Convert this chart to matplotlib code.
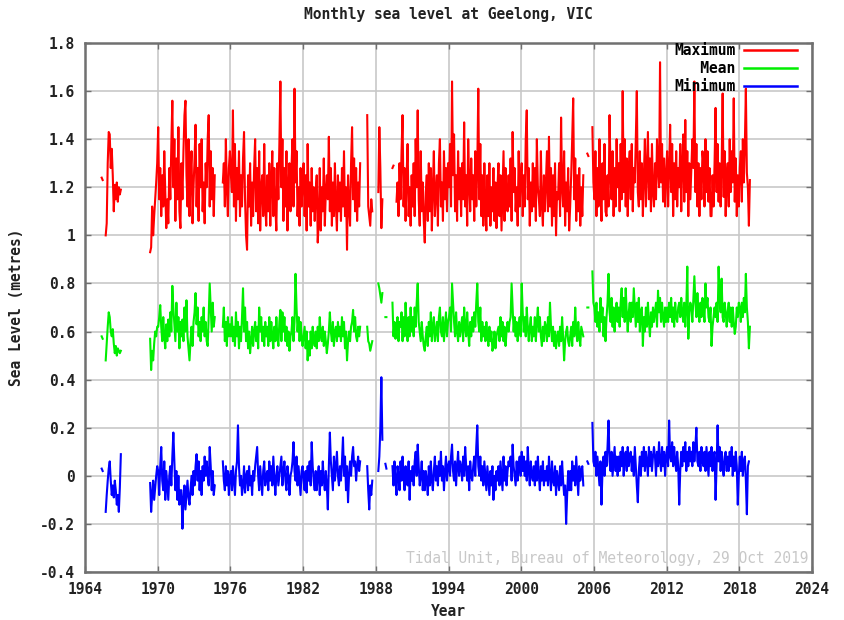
import numpy as np
import matplotlib
matplotlib.use("Agg")
import matplotlib.pyplot as plt

N = None
# Monthly values in centimetres, one row per year (Jan..Dec), 1965..2018
start_year = 1965

max_cm = [
    N, N, N, N, 124, 123, N, N, 100, 105, 130, 143,            # 1965
    142, 128, 136, 125, 110, 121, 115, 122, 114, 120, 117, 119,  # 1966
    N, N, N, N, N, N, N, N, N, N, N, N,                          # 1967
    N, N, N, N, N, N, N, N, N, N, N, N,                          # 1968
    N, N, N, N, 93, 95, 112, 100, 108, 115, 122, 130,            # 1969
    145, 115, 128, 108, 125, 112, 135, 118, 103, 115, 105, 128,  # 1970
    115, 138, 156, 120, 140, 106, 132, 115, 145, 110, 103, 130,  # 1971
    115, 135, 150, 156, 125, 112, 140, 108, 125, 135, 105, 120,  # 1972
    132, 146, 112, 128, 106, 138, 120, 140, 110, 122, 105, 130,  # 1973
    120, 140, 150, 112, 135, 115, 128, 108, 125, N, N, N,        # 1974
    N, N, N, N, 122, 130, 112, 140, 120, 108, 128, 135,          # 1975
    125, 118, 152, 112, 138, 106, 128, 115, 135, 108, 125, 112,  # 1976
    132, 143, 115, 100, 94, 125, 112, 130, 104, 122, 108, 128,   # 1977
    140, 110, 128, 105, 135, 102, 120, 125, 108, 138, 112, 104,  # 1978
    125, 110, 130, 104, 122, 135, 108, 128, 112, 102, 130, 115,  # 1979
    138, 164, 120, 140, 106, 128, 112, 135, 102, 120, 130, 110,  # 1980
    128, 140, 112, 161, 122, 135, 108, 120, 104, 128, 112, 122,  # 1981
    130, 108, 125, 102, 138, 112, 122, 104, 128, 110, 120, 106,  # 1982
    118, 125, 97, 106, 128, 102, 120, 110, 132, 104, 118, 125,   # 1983
    115, 141, 110, 128, 104, 122, 108, 130, 112, 102, 125, 110,  # 1984
    122, 106, 128, 112, 135, 108, 120, 94, 125, 112, 104, 130,   # 1985
    145, 115, 132, 110, 128, 106, 122, 112, 130, N, N, N,        # 1986
    N, N, N, 150, 112, 108, 104, 115, 110, N, N, N,              # 1987
    N, N, 118, 145, 128, 103, 115, N, N, N, N, N,                # 1988
    N, N, N, N, 128, 129, N, N, 114, 122, 108, 130,              # 1989
    115, 135, 150, 112, 128, 106, 125, 138, 108, 120, 104, 125,  # 1990
    112, 130, 108, 140, 120, 152, 115, 104, 135, 110, 122, 106,  # 1991
    97, 118, 125, 106, 130, 110, 128, 102, 120, 135, 108, 118,   # 1992
    125, 104, 130, 140, 112, 122, 106, 135, 115, 128, 110, 130,  # 1993
    120, 138, 112, 164, 125, 142, 110, 125, 106, 135, 115, 128,  # 1994
    108, 130, 115, 147, 112, 125, 104, 140, 122, 110, 132, 115,  # 1995
    125, 106, 135, 112, 128, 161, 115, 138, 108, 125, 104, 130,  # 1996
    112, 102, 125, 108, 130, 104, 120, 110, 128, 106, 122, 103,  # 1997
    120, 130, 108, 125, 102, 118, 135, 106, 128, 115, 110, 125,  # 1998
    112, 132, 106, 143, 118, 128, 110, 120, 104, 135, 112, 125,  # 1999
    130, 108, 125, 112, 140, 152, 115, 128, 104, 122, 110, 130,  # 2000
    112, 128, 106, 140, 120, 115, 108, 135, 112, 104, 125, 110,  # 2001
    122, 135, 110, 141, 112, 128, 104, 125, 108, 130, 100, 118,  # 2002
    115, 130, 108, 149, 120, 112, 135, 104, 122, 110, 128, 102,  # 2003
    112, 125, 140, 157, 115, 132, 106, 125, 110, 128, 104, 120,  # 2004
    108, 125, N, N, N, 134, 133, N, N, N, 145, 122,              # 2005
    115, 135, 108, 128, 112, 140, 120, 106, 130, 115, 138, 110,  # 2006
    108, 125, 112, 150, 125, 115, 135, 108, 128, 112, 140, 120,  # 2007
    130, 110, 138, 115, 160, 118, 140, 112, 132, 108, 128, 135,  # 2008
    115, 138, 110, 128, 122, 140, 160, 118, 112, 135, 115, 130,  # 2009
    108, 125, 140, 112, 128, 143, 115, 132, 110, 138, 118, 112,  # 2010
    130, 115, 140, 128, 120, 172, 122, 138, 114, 132, 112, 125,  # 2011
    135, 112, 128, 146, 118, 138, 108, 130, 115, 135, 112, 128,  # 2012
    120, 138, 110, 130, 142, 114, 148, 118, 135, 108, 130, 115,  # 2013
    128, 140, 128, 164, 118, 138, 112, 130, 108, 128, 115, 135,  # 2014
    130, 112, 140, 118, 135, 114, 128, 108, 108, 125, 112, 130,  # 2015
    153, 118, 138, 114, 130, 112, 128, 159, 116, 135, 108, 125,  # 2016
    130, 112, 140, 118, 135, 122, 157, 114, 132, 108, 125, 112,  # 2017
    128, 135, 114, 140, 122, 138, 161, 126, 120, 104, 123, N,    # 2018
]

mean_cm = [
    N, N, N, N, 58, 57, N, N, 48, 55, 62, 68,                    # 1965
    66, 60, 58, 61, 55, 51, 54, 50, 53, 52, 51, 52,              # 1966
    N, N, N, N, N, N, N, N, N, N, N, N,                          # 1967
    N, N, N, N, N, N, N, N, N, N, N, N,                          # 1968
    N, N, N, N, 57, 44, 52, 48, 55, 60, 58, 62,                  # 1969
    62, 66, 71, 62, 56, 66, 58, 53, 63, 56, 65, 58,              # 1970
    68, 60, 79, 70, 63, 56, 72, 60, 66, 53, 64, 58,              # 1971
    65, 56, 70, 60, 73, 58, 53, 48, 56, 62, 54, 64,              # 1972
    68, 76, 63, 70, 58, 64, 56, 66, 60, 70, 58, 64,              # 1973
    56, 54, 66, 80, 70, 60, 72, 62, 66, N, N, N,                 # 1974
    N, N, N, N, 62, 70, 56, 64, 54, 66, 58, 63,                  # 1975
    58, 66, 56, 62, 54, 68, 58, 64, 53, 62, 56, 66,              # 1976
    78, 60, 70, 56, 64, 53, 60, 51, 56, 62, 54, 60,              # 1977
    64, 56, 62, 53, 70, 60, 66, 56, 62, 54, 64, 58,              # 1978
    62, 54, 66, 56, 64, 58, 53, 62, 56, 66, 58, 54,              # 1979
    64, 69, 56, 68, 60, 66, 56, 62, 54, 60, 52, 58,              # 1980
    60, 66, 56, 64, 84, 70, 60, 66, 56, 64, 58, 54,              # 1981
    58, 62, 53, 60, 48, 56, 50, 60, 53, 62, 56, 54,              # 1982
    60, 53, 62, 56, 66, 58, 56, 62, 54, 60, 56, 51,              # 1983
    55, 60, 68, 60, 56, 64, 54, 60, 62, 56, 64, 58,              # 1984
    62, 56, 66, 58, 64, 53, 60, 48, 56, 60, 56, 62,              # 1985
    64, 69, 60, 66, 58, 56, 62, 58, 62, N, N, N,                 # 1986
    N, N, N, 62, 56, 55, 52, 54, 56, N, N, N,                    # 1987
    N, N, 80, 78, 75, 72, 76, N, N, 66, 66, N,                   # 1988
    N, N, N, N, 72, 58, 64, 57, 62, 66, 56, 64,                  # 1989
    62, 68, 56, 66, 58, 72, 62, 56, 66, 58, 70, 60,              # 1990
    66, 58, 70, 62, 72, 80, 64, 60, 56, 64, 58, 54,              # 1991
    52, 58, 62, 54, 64, 58, 68, 56, 62, 66, 56, 60,              # 1992
    64, 56, 66, 70, 60, 58, 66, 56, 62, 68, 58, 64,              # 1993
    66, 70, 60, 80, 72, 64, 58, 68, 60, 56, 64, 58,              # 1994
    62, 66, 56, 70, 62, 58, 68, 60, 54, 64, 58, 66,              # 1995
    60, 68, 62, 72, 80, 64, 60, 70, 56, 64, 58, 62,              # 1996
    56, 64, 58, 54, 62, 56, 60, 52, 54, 60, 53, 58,              # 1997
    60, 62, 56, 66, 58, 64, 56, 62, 54, 60, 64, 60,              # 1998
    64, 66, 80, 70, 60, 66, 58, 64, 56, 62, 66, 58,              # 1999
    80, 68, 60, 66, 58, 70, 62, 56, 62, 66, 56, 62,              # 2000
    58, 66, 56, 64, 70, 60, 66, 58, 54, 62, 56, 64,              # 2001
    62, 56, 66, 58, 72, 62, 56, 62, 54, 60, 53, 58,              # 2002
    60, 54, 62, 56, 66, 58, 48, 56, 60, 62, 56, 54,              # 2003
    58, 62, 54, 64, 58, 70, 60, 56, 64, 58, 54, 62,              # 2004
    60, 58, N, N, N, 70, 70, N, N, N, 85, 72,                    # 2005
    70, 64, 72, 62, 68, 60, 74, 64, 70, 58, 66, 56,              # 2006
    66, 72, 84, 68, 64, 74, 62, 70, 60, 68, 72, 64,              # 2007
    70, 62, 72, 78, 66, 74, 64, 78, 68, 60, 68, 72,              # 2008
    64, 72, 66, 78, 70, 62, 72, 64, 74, 60, 68, 70,              # 2009
    54, 66, 60, 70, 62, 72, 64, 58, 68, 62, 70, 64,              # 2010
    68, 72, 62, 77, 68, 74, 64, 72, 66, 62, 70, 64,              # 2011
    70, 64, 72, 66, 74, 64, 70, 62, 72, 66, 64, 70,              # 2012
    72, 66, 74, 68, 64, 72, 62, 70, 87, 57, 68, 72,              # 2013
    70, 64, 74, 83, 72, 66, 76, 68, 64, 72, 66, 74,              # 2014
    70, 64, 80, 70, 74, 66, 64, 70, 54, 62, 66, 70,              # 2015
    66, 72, 64, 87, 74, 68, 82, 66, 64, 72, 68, 62,              # 2016
    68, 72, 64, 70, 62, 70, 64, 59, 62, 70, 66, 72,              # 2017
    70, 64, 72, 66, 74, 68, 84, 70, 64, 53, 62, N,               # 2018
]

min_cm = [
    N, N, N, N, 3, 2, N, N, -15, -8, -2, 3,                      # 1965
    6, -2, -8, -4, -9, -2, -6, -12, -8, -15, -5, 9,              # 1966
    N, N, N, N, N, N, N, N, N, N, N, N,                          # 1967
    N, N, N, N, N, N, N, N, N, N, N, N,                          # 1968
    N, N, N, N, -3, -15, -8, -2, -10, -5, 0, 4,                  # 1969
    2, -8, 4, 12, -2, -6, 6, -10, 2, -4, -10, 0,                 # 1970
    4, -4, 8, 18, 6, -6, 2, -10, 0, -12, -6, -6,                 # 1971
    -22, -10, -4, -14, -8, -2, -9, -12, -6, 0, -8, 2,            # 1972
    -4, 4, 9, -2, 6, -6, 2, -8, 4, -2, 8, 0,                     # 1973
    6, 0, -4, 12, 4, -6, 2, -8, -4, N, N, N,                     # 1974
    N, N, N, N, 6, -2, -6, 4, -4, 2, -8, 0,                      # 1975
    2, -6, 4, -2, -8, 2, 6, 21, 4, -4, 0, -8,                    # 1976
    -4, 4, -7, 0, 2, -6, 4, -4, 0, -8, 2, -2,                    # 1977
    4, 8, 12, 0, -6, 4, -2, -8, 2, 6, -4, 0,                     # 1978
    2, -6, 6, -2, 4, -4, 8, 0, -8, 0, 4, -4,                     # 1979
    0, 4, 8, -4, 2, 6, -2, -6, 4, 0, -8, 0,                      # 1980
    2, 6, 14, 2, -2, 8, -4, 4, -2, -8, 2, 4,                     # 1981
    -2, -6, 2, -7, 4, -2, 6, -4, 14, 4, -2, -6,                  # 1982
    2, -6, 0, 4, -8, 2, -4, 6, -2, -6, 2, -4,                    # 1983
    -14, 4, 18, 6, 0, -6, 8, -2, 4, 10, 0, -4,                   # 1984
    4, -2, 6, 16, 0, 8, -6, 4, -11, 0, 6, 0,                     # 1985
    8, 12, 4, 6, -2, 4, 8, 2, 6, N, N, N,                        # 1986
    N, N, N, 4, -6, -14, -4, -8, -2, N, N, N,                    # 1987
    N, N, 2, 8, 20, 41, 15, N, N, 5, 3, N,                       # 1988
    N, N, N, N, 4, -4, 6, -2, -8, 4, 0, -6,                      # 1989
    6, -2, 8, 0, -6, 4, -2, -4, 6, -10, 2, -2,                   # 1990
    4, -4, 6, 10, 0, 13, 4, -4, 0, 6, -6, 2,                     # 1991
    -6, 2, -2, -8, 4, -4, 6, -2, -6, 2, 8, -2,                   # 1992
    4, -4, 6, 0, 10, -2, 4, -6, 2, 8, -2, 4,                     # 1993
    6, 0, 8, 13, 2, -2, 6, -4, 4, 10, 0, 6,                      # 1994
    4, -2, 8, 0, 12, 4, -2, 4, -6, 6, 0, -2,                     # 1995
    4, 8, 0, 12, 21, 4, 0, 8, -2, 4, -4, 6,                      # 1996
    0, -6, 4, -2, -8, 2, -4, 4, -10, 0, -6, 2,                   # 1997
    -2, 4, -4, 6, 0, -6, 8, -2, 4, -4, 2, 6,                     # 1998
    4, 8, -2, 13, 4, 0, -4, 6, -2, 4, 8, 0,                      # 1999
    10, 2, 8, 0, 6, -2, 12, 2, -4, 6, 0, -2,                     # 2000
    4, -4, 6, -2, 8, 0, -6, 4, -2, 6, -4, 2,                     # 2001
    -2, 4, -4, 8, 0, -6, 6, -2, -4, 4, -8, 2,                    # 2002
    -2, -6, 4, -4, 6, -2, -8, -4, -20, -8, 2, -6,                # 2003
    2, -6, 6, -2, 4, -4, 8, 0, -8, 4, -2, 2,                     # 2004
    4, -4, N, N, N, 6, 5, N, N, N, 22, 6,                        # 2005
    4, 10, 0, 8, 2, -4, 6, -12, 2, 8, 0, 10,                     # 2006
    4, 12, 23, 6, 2, 10, 0, 6, 12, 2, 8, 0,                      # 2007
    8, 2, 10, 4, 12, 0, 8, 10, 2, 12, 4, 8,                      # 2008
    10, 2, 8, 0, 12, 4, -4, -11, 2, 8, 0, 10,                    # 2009
    4, 12, 2, 10, 6, 0, 12, 4, 10, 2, 8, 12,                     # 2010
    8, 0, 10, 4, 14, 6, 2, 12, 4, 10, 0, 8,                      # 2011
    12, 4, 23, 8, 6, 14, 4, 12, 6, 2, 10, 4,                     # 2012
    -12, 2, 10, 4, 12, 6, 14, 2, 10, 4, 12, 6,                   # 2013
    10, 4, 14, 6, 12, 20, 6, 4, 10, 2, 12, 6,                    # 2014
    4, 10, 2, 12, 6, 0, 10, 4, 12, 2, 8, 10,                     # 2015
    -10, 4, 21, 6, 12, 2, 10, 4, 0, 8, 10, 2,                    # 2016
    8, 2, 10, 4, 12, 0, 8, 2, 10, 4, -12, 0,                     # 2017
    8, 2, 10, 0, 6, 8, -2, -16, 4, 6, N, N,                      # 2018
]

series_labels = ["Maximum", "Mean", "Minimum"]
series_colors = ["#ff0000", "#00ee00", "#0000ff"]
x_ticks = [1964, 1970, 1976, 1982, 1988, 1994, 2000, 2006, 2012, 2018, 2024]
y_ticks = [-0.4, -0.2, 0, 0.2, 0.4, 0.6, 0.8, 1.0, 1.2, 1.4, 1.6, 1.8]
y_tick_labels = ["-0.4", "-0.2", "0", "0.2", "0.4", "0.6", "0.8", "1", "1.2", "1.4", "1.6", "1.8"]


def to_m(vals):
    return np.array(vals, dtype=float) / 100.0


n = len(max_cm)
t = start_year + (np.arange(n) + 0.5) / 12.0

mono = "DejaVu Sans Mono"
fig = plt.figure(figsize=(8.44, 6.20), dpi=100)
ax = fig.add_axes([85 / 844, 1 - 572 / 620, (812 - 85) / 844, (572 - 43) / 620])

lw = 1.5
for vals, lab, col in zip([max_cm, mean_cm, min_cm], series_labels, series_colors):
    ax.plot(t, to_m(vals), color=col, lw=lw, label=lab)

ax.set_xlim(1964, 2024)
ax.set_ylim(-0.4, 1.8)
ax.set_xticks(x_ticks)
ax.set_yticks(y_ticks)
ax.set_xticklabels([str(v) for v in x_ticks])
ax.set_yticklabels(y_tick_labels)
ax.grid(True, color="#c8c8c8", lw=1.2)
ax.set_axisbelow(True)
for sp in ax.spines.values():
    sp.set_color("#707070")
    sp.set_linewidth(1.8)
ax.tick_params(direction="in", length=4, width=1, color="#707070",
               top=True, right=True, pad=7)
for lbl in ax.get_xticklabels() + ax.get_yticklabels():
    lbl.set_fontfamily(mono)
    lbl.set_fontweight("bold")
    lbl.set_fontsize(10.5)
    lbl.set_color("#222222")

ax.set_title("Monthly sea level at Geelong, VIC", fontfamily=mono,
             fontweight="bold", fontsize=10.5, color="#222222", pad=17)
ax.set_xlabel("Year", fontfamily=mono, fontweight="bold", fontsize=10.5,
              color="#222222", labelpad=5)
ax.set_ylabel("Sea Level (metres)", fontfamily=mono, fontweight="bold",
              fontsize=10.5, color="#222222", labelpad=12)

handles, labels = ax.get_legend_handles_labels()
width = max(len(s) for s in labels)
labels = [s.rjust(width) for s in labels]
leg = ax.legend(handles, labels, loc="upper right", frameon=False,
                bbox_to_anchor=(0.985, 1.008),
                markerfirst=False, handlelength=3.6, handletextpad=0.6,
                labelspacing=0.2, borderaxespad=0.0, borderpad=0.3,
                prop={"family": mono, "weight": "bold", "size": 10.5})
for line in leg.get_lines():
    line.set_linewidth(1.8)

ax.text(0.995, 0.012, "Tidal Unit, Bureau of Meteorology, 29 Oct 2019",
        transform=ax.transAxes, ha="right", va="bottom",
        fontfamily=mono, fontsize=10.5, color="#c8c8c8")

fig.savefig("out.png", dpi=100)
